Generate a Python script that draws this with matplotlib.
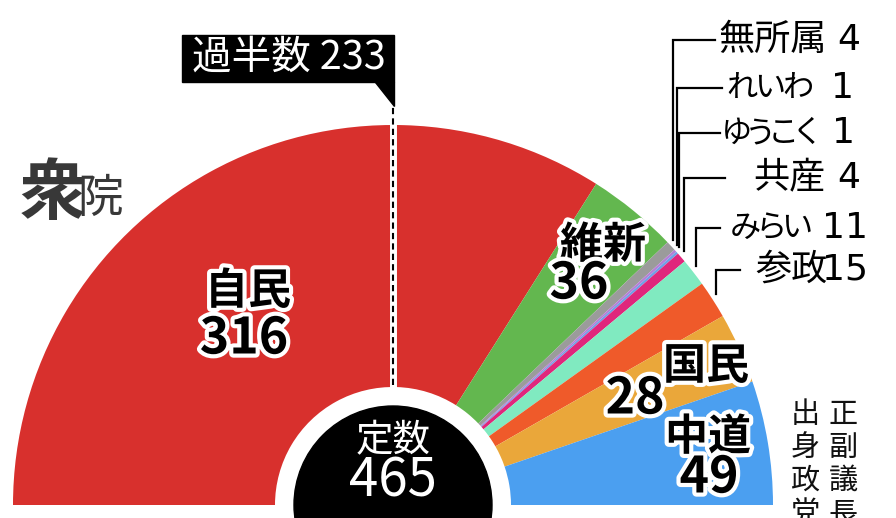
import numpy as np
import matplotlib.pyplot as plt
import matplotlib.patheffects as pe
from matplotlib.patches import Circle, Rectangle, Polygon

plt.rcParams['font.family'] = ['Noto Sans CJK JP', 'DejaVu Sans']

# seats, left to right along the arc
parties = ['自民', '維新', '無所属', 'れいわ', 'ゆうこく', '共産', 'みらい', '参政', '国民', '中道']
seats = [316, 36, 4, 1, 1, 4, 11, 15, 28, 49]
colors = ['#d8302d', '#63b74f', '#9b9b9b', '#b57fd6', '#6f9fe6', '#e0267c',
          '#80eac0', '#ef5a2a', '#eaa73a', '#4b9ff0']
total = 465
majority = 233

# small parties get leader lines + labels on the right
small = ['無所属', 'れいわ', 'ゆうこく', '共産', 'みらい', '参政']
small_label_y = [40, 88, 133, 178, 228, 270]      # label rows (px from top)
small_name_x = [718, 728, 725, 753, 732, 755]     # where each name starts
small_num_x = [860, 854, 855, 860, 868, 868]      # right edge of the number
small_line_end = [715, 722, 720, 725, 720, 740]   # end of horizontal leader

W, H = 896, 518
cx, cy = 393, 518 - 505     # centre of the half circle (y up)
R_out, R_in, R_black = 380, 118, 99

fig = plt.figure(figsize=(W / 100, H / 100), dpi=100)
ax = fig.add_axes([0, 0, 1, 1])

# half donut: add an invisible lower half
vals = seats + [total]
cols = colors + ['none']
wedges, _ = ax.pie(vals, colors=cols, startangle=180, counterclock=False,
                   radius=R_out, center=(cx, cy), frame=True,
                   wedgeprops=dict(width=R_out - R_in, linewidth=0))
ax.set_xlim(0, W)
ax.set_ylim(0, H)
ax.set_aspect('equal')
ax.axis('off')

# centre black disc
ax.add_patch(Circle((cx, cy), R_black, color='black', zorder=5))
ax.text(cx, 518 - 441, '定数', color='white', fontsize=27, ha='center', va='center', zorder=6)
ax.text(cx, 518 - 481, str(total), color='white', fontsize=38, ha='center', va='center', zorder=6)

# majority marker
mx = cx + R_out * np.cos(np.radians(180 - 180 * (majority - 0.5) / total))
ax.plot([mx, mx], [cy + R_in + 2, 518 - 100], color='white', lw=5, zorder=3)
ax.plot([mx, mx], [cy + R_in + 2, 518 - 100], color='black', lw=1.5,
        dashes=(3, 2), zorder=4)
ax.add_patch(Rectangle((182, 518 - 82), mx - 182 + 1, 47, color='black', zorder=4))
ax.add_patch(Polygon([[375, 518 - 82], [mx + 1, 518 - 82], [mx + 1, 518 - 106]],
                     closed=True, color='black', zorder=4))
ax.text(289, 518 - 58, '過半数 ' + str(majority), color='white', fontsize=28.5,
        ha='center', va='center', zorder=6)

# labels inside the big wedges
outline = [pe.withStroke(linewidth=6, foreground='white')]
inner = {
    '自民': [(248, 291, '自民', 31), (244, 339, '316', 36)],
    '維新': [(603, 245, '維新', 31), (579, 284, '36', 36)],
    '国民': [(706, 366, '国民', 31), (635, 399, '28', 36)],
    '中道': [(708, 437, '中道', 31), (709, 478, '49', 36)],
}
for name, items in inner.items():
    for x, y, s, fs in items:
        ax.text(x, 518 - y, s, fontsize=fs, fontweight='bold', ha='center', va='center',
                path_effects=outline, zorder=7)

# leader lines for the small parties
cum = np.cumsum([0] + seats)
for k, name in enumerate(small):
    i = parties.index(name)
    ly = 518 - small_label_y[k]
    mid = 180 - 180 * (cum[i] + seats[i] / 2) / total
    x0 = cx + R_out * np.cos(np.radians(mid)) + 2 + 0.06 * k * k
    y0 = cy + R_out * np.sin(np.radians(mid)) + 6
    ax.plot([x0, x0, small_line_end[k]], [y0, ly, ly], color='black', lw=1.6,
            solid_joinstyle='miter', zorder=3)
    # name: kana drawn narrower, like the proportional kana in the original
    if name in ('れいわ', 'ゆうこく', 'みらい'):
        step = 28 if name == 'れいわ' else 23.5 if name == 'ゆうこく' else 26
        for j, ch in enumerate(name):
            ax.text(small_name_x[k] + step * (j + 0.5), ly, ch, fontsize=22.5,
                    ha='center', va='center')
    else:
        ax.text(small_name_x[k], ly, name, fontsize=26, ha='left', va='center')
    ax.text(small_num_x[k], ly, str(seats[i]), fontsize=26, ha='right', va='center',
            family='DejaVu Sans')

# chamber title
ax.text(20, 518 - 194, '衆', fontsize=48, fontweight='bold', color='#383838',
        ha='left', va='center')
ax.text(77, 518 - 199, '院', fontsize=33, color='#383838', ha='left', va='center')

# vertical note, bottom right (cut off by the frame)
for col_x, s in [(843, '正副議長'), (805, '出身政党')]:
    for k, ch in enumerate(s):
        ax.text(col_x, 518 - (415 + 33 * k), ch, fontsize=21, ha='center', va='center',
                color='#111111')

fig.savefig('out.png', dpi=100)
